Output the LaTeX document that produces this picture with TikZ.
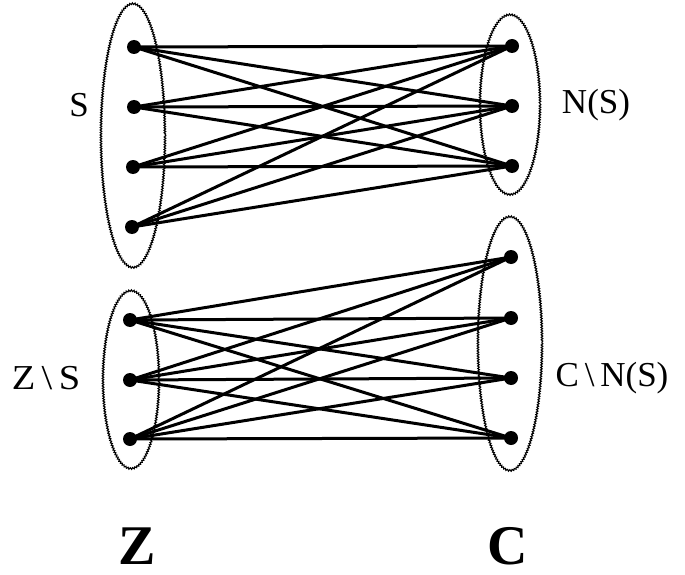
\documentclass[tikz,border=0pt]{standalone}
\usepackage{fontspec}
\setmainfont{Liberation Serif}
\usetikzlibrary{decorations.pathmorphing}
\begin{document}
\begin{tikzpicture}[x=1pt,y=-1pt,
  vtx/.style={circle,fill=black,inner sep=0pt,minimum size=14pt},
  edge/.style={line width=3pt},
  setring/.style={line width=1.1pt,decorate,decoration={snake,amplitude=0.8pt,segment length=2.5pt}},
  lab/.style={font=\fontsize{35}{35}\selectfont,inner sep=0pt},
  big/.style={font=\fontsize{56}{56}\selectfont\bfseries,inner sep=0pt}]
\useasboundingbox (0,0) rectangle (685,575);
% set outlines
\draw[setring] (133,135) ellipse [x radius=32, y radius=132];
\draw[setring] (510,104) ellipse [x radius=30, y radius=90];
\draw[setring] (131,379) ellipse [x radius=28, y radius=89];
\draw[setring] (510,343) ellipse [x radius=32, y radius=127];
% vertices
\node[vtx] (a1) at (134,47) {};
\node[vtx] (a2) at (134,107) {};
\node[vtx] (a3) at (133,167) {};
\node[vtx] (a4) at (132,227) {};
\node[vtx] (b1) at (512,46) {};
\node[vtx] (b2) at (512,106) {};
\node[vtx] (b3) at (512,166) {};
\node[vtx] (c1) at (130,320) {};
\node[vtx] (c2) at (130,380) {};
\node[vtx] (c3) at (130,439) {};
\node[vtx] (d1) at (511,257) {};
\node[vtx] (d2) at (511,318) {};
\node[vtx] (d3) at (511,378) {};
\node[vtx] (d4) at (511,438) {};
% edges
\foreach \i in {a1,a2,a3,a4}{\foreach \j in {b1,b2,b3}{\draw[edge] (\i.center) -- (\j.center);}}
\foreach \i in {c1,c2,c3}{\foreach \j in {d1,d2,d3,d4}{\draw[edge] (\i.center) -- (\j.center);}}
% labels
\node[lab] (ls) at (79,105) {S};
\node[lab] (lns) at (596,105) {N(S)};
\node[lab,xscale=1.1] (lzs) at (46,378) {Z\,\textbackslash\,S};
\node[lab] (lcns) at (612,378) {C\,\textbackslash\,N(S)};
\node[big] (lz) at (137,546) {Z};
\node[big] (lc) at (508,546) {C};
\end{tikzpicture}
\end{document}
